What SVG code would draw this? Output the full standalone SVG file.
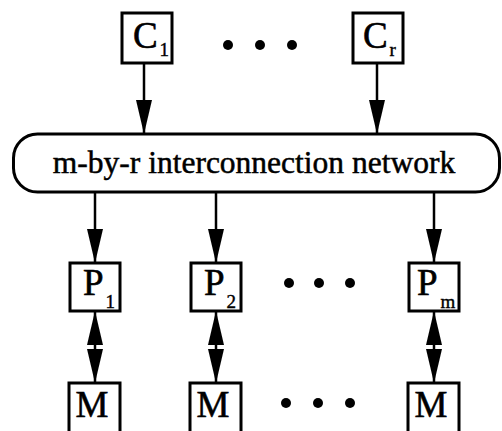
<svg xmlns="http://www.w3.org/2000/svg" width="502" height="431" viewBox="0 0 502 431">
<defs>
<style>
.box{fill:#fff;stroke:#000;stroke-width:3}
.lbl{font-family:"Liberation Serif","Times New Roman",serif;font-size:37px;fill:#000;stroke:#000;stroke-width:0.6}
.sub{font-family:"Liberation Serif","Times New Roman",serif;font-size:19px;fill:#000;stroke:#000;stroke-width:0.4}
.net{font-family:"Liberation Serif","Times New Roman",serif;font-size:31.5px;fill:#000;stroke:#000;stroke-width:0.5}
.conn{stroke:#000;stroke-width:2.5;fill:none}
.dot{fill:#000}
</style>
<marker id="ah" viewBox="0 0 34 16" refX="34" refY="8" markerWidth="34" markerHeight="16" orient="auto-start-reverse" markerUnits="userSpaceOnUse">
<path d="M0,0 L34,8 L0,16 z" fill="#000"/>
</marker>
</defs>
<rect width="502" height="431" fill="#fff"/>
<g id="connectors">
<line class="conn" x1="144" y1="63" x2="144" y2="134" marker-end="url(#ah)"/>
<line class="conn" x1="377" y1="63" x2="377" y2="134" marker-end="url(#ah)"/>
<line class="conn" x1="95" y1="192" x2="95" y2="263" marker-end="url(#ah)"/>
<line class="conn" x1="216" y1="192" x2="216" y2="263" marker-end="url(#ah)"/>
<line class="conn" x1="434" y1="192" x2="434" y2="263" marker-end="url(#ah)"/>
<line class="conn" x1="95" y1="311" x2="95" y2="383" marker-start="url(#ah)" marker-end="url(#ah)"/>
<line class="conn" x1="216" y1="311" x2="216" y2="383" marker-start="url(#ah)" marker-end="url(#ah)"/>
<line class="conn" x1="434" y1="311" x2="434" y2="383" marker-start="url(#ah)" marker-end="url(#ah)"/>
</g>
<g id="C1">
<rect class="box" x="122" y="13" width="50" height="50"/>
<text class="lbl" x="133" y="48">C</text>
<text class="sub" x="159.5" y="56">1</text>
</g>
<g id="Cr">
<rect class="box" x="353" y="13" width="50" height="50"/>
<text class="lbl" x="363" y="48">C</text>
<text class="sub" x="389.5" y="56">r</text>
</g>
<g id="dotsC">
<circle class="dot" cx="228" cy="45" r="5"/>
<circle class="dot" cx="260" cy="45" r="5"/>
<circle class="dot" cx="292" cy="45" r="5"/>
</g>
<g id="network">
<rect class="box" x="13.5" y="134" width="486" height="58" rx="24" ry="24"/>
<text class="net" x="254" y="173" text-anchor="middle">m-by-r interconnection network</text>
</g>
<g id="P1">
<rect class="box" x="70" y="263" width="50" height="48"/>
<text class="lbl" x="83" y="295">P</text>
<text class="sub" x="105.5" y="308">1</text>
</g>
<g id="P2">
<rect class="box" x="191" y="263" width="50" height="48"/>
<text class="lbl" x="204" y="295">P</text>
<text class="sub" x="226.5" y="308">2</text>
</g>
<g id="Pm">
<rect class="box" x="409" y="263" width="50" height="48"/>
<text class="lbl" x="417" y="295">P</text>
<text class="sub" x="440.5" y="308">m</text>
</g>
<g id="dotsP">
<circle class="dot" cx="289" cy="283" r="5"/>
<circle class="dot" cx="319" cy="283" r="5"/>
<circle class="dot" cx="350" cy="283" r="5"/>
</g>
<g id="M1">
<rect class="box" x="69" y="383" width="51" height="60"/>
<text class="lbl" x="92" y="417" text-anchor="middle">M</text>
</g>
<g id="M2">
<rect class="box" x="190" y="383" width="51" height="60"/>
<text class="lbl" x="213" y="417" text-anchor="middle">M</text>
</g>
<g id="Mm">
<rect class="box" x="408" y="383" width="51" height="60"/>
<text class="lbl" x="431" y="417" text-anchor="middle">M</text>
</g>
<g id="dotsM">
<circle class="dot" cx="286" cy="403" r="5"/>
<circle class="dot" cx="318" cy="403" r="5"/>
<circle class="dot" cx="350" cy="403" r="5"/>
</g>
</svg>
